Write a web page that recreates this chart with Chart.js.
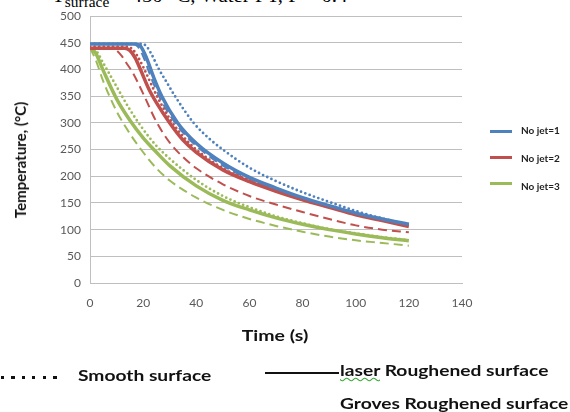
<!DOCTYPE html>
<html><head><meta charset="utf-8">
<script src="https://cdn.jsdelivr.net/npm/chart.js@4"></script>
<style>
body{margin:0;width:570px;height:412px;position:relative;overflow:hidden;background:#fff;}
canvas{position:absolute;left:0;top:0;}
.t{position:absolute;white-space:nowrap;font-family:Lato,"Open Sans",sans-serif;font-weight:bold;color:#111;}
.leg{font-size:10px;color:#222;}
.bl{font-size:15px;transform:scaleX(1.28);transform-origin:0 0;}
.sw{position:absolute;height:3px;width:22px;}
</style></head><body>
<div class="t" style="left:52px;top:-15px;font-family:'Liberation Serif',serif;font-weight:normal;font-size:19px;color:#000;transform:scaleX(1.1);transform-origin:0 0;">T<sub style="font-size:14px">surface</sub> = 450 °C, Water PT, P = 0.4</div>
<canvas id="c" width="570" height="412"></canvas>
<div class="sw" style="left:490px;top:130px;background:#4F81BD"></div>
<div class="sw" style="left:490px;top:156px;background:#C0504D"></div>
<div class="sw" style="left:490px;top:182px;background:#9BBB59"></div>
<div class="t leg" style="left:521px;top:124px;">No jet=1</div>
<div class="t leg" style="left:521px;top:152px;">No jet=2</div>
<div class="t leg" style="left:521px;top:180px;">No jet=3</div>
<div class="t" style="left:20px;top:160px;transform:translate(-50%,-50%) rotate(-90deg);font-size:15px;">Temperature, (°C)</div>
<div class="t" style="left:275px;top:335px;transform:translate(-50%,-50%) scaleX(1.3);font-size:15px;">Time (s)</div>
<div style="position:absolute;left:1px;top:376px;width:60px;height:3px;background:repeating-linear-gradient(90deg,#111 0 3px,transparent 3px 10.5px);"></div>
<div class="t bl" style="left:78px;top:366px;">Smooth surface</div>
<div style="position:absolute;left:265px;top:372px;width:74px;height:2px;background:#111"></div>
<div class="t bl" style="left:340px;top:361px;"><span style="text-decoration:underline wavy #3a3;text-decoration-thickness:1px">laser</span> Roughened surface</div>
<div class="t bl" style="left:340px;top:394px;">Groves Roughened surface</div>
<script>
// ---- data ----
const xTicks = [0, 20, 40, 60, 80, 100, 120, 140];
const yTicks = [0, 50, 100, 150, 200, 250, 300, 350, 400, 450, 500];
const legendLabels = ['No jet=1', 'No jet=2', 'No jet=3'];

// Jet 1 (blue)
const timeLaserJet1   = [0, 17, 19, 21, 24, 27, 33, 40, 50, 60, 70, 80, 90, 100, 110, 120];
const tempLaserJet1   = [448, 448, 444, 425, 385, 350, 300, 262, 225, 198, 178, 160, 145, 131, 120, 110];
const timeGrooveJet1  = [0, 16, 18, 20, 23, 26, 30, 35, 40, 50, 60, 70, 80, 90, 100, 110, 120];
const tempGrooveJet1  = [448, 448, 443, 425, 385, 350, 315, 282, 257, 220, 195, 176, 159, 144, 131, 120, 109];
const timeSmoothJet1  = [0, 19, 21, 23, 26, 29, 32, 39, 45, 50, 60, 70, 80, 90, 100, 110, 120];
const tempSmoothJet1  = [448, 448, 445, 430, 400, 375, 350, 300, 270, 250, 216, 191, 170, 152, 135, 121, 109];

// Jet 2 (red)
const timeLaserJet2   = [0, 13, 15, 17, 19, 22, 25, 30, 35, 40, 50, 60, 70, 80, 90, 100, 110, 120];
const tempLaserJet2   = [440, 440, 436, 422, 400, 365, 338, 300, 268, 245, 212, 190, 172, 156, 142, 128, 117, 106];
const timeSmoothJet2  = [0, 14, 16, 18, 20, 25, 30, 35, 40, 50, 60, 70, 80, 90, 100, 110, 120];
const tempSmoothJet2  = [443, 443, 438, 424, 405, 352, 308, 275, 250, 215, 192, 174, 158, 143, 130, 118, 107];
const timeGrooveJet2  = [0, 8, 10, 12, 14, 16, 20, 25, 30, 35, 40, 50, 60, 70, 80, 90, 100, 110, 120];
const tempGrooveJet2  = [440, 440, 436, 425, 410, 395, 355, 302, 263, 236, 215, 185, 163, 147, 133, 120, 108, 100, 95];

// Jet 3 (green)
const timeJet3        = [0, 2, 5, 10, 15, 20, 25, 30, 40, 50, 60, 70, 80, 90, 100, 110, 120];
const tempLaserJet3   = [440, 432, 398, 345, 305, 272, 245, 220, 182, 155, 137, 122, 110, 100, 92, 85, 79];
const tempSmoothJet3  = [440, 437, 412, 368, 325, 288, 257, 233, 193, 163, 142, 125, 112, 101, 93, 86, 80];
const tempGrooveJet3  = [440, 420, 378, 322, 280, 245, 215, 192, 160, 137, 120, 107, 96, 87, 80, 75, 70];

// ---- styling ----
const BLUE = '#4F81BD', RED = '#C0504D', GREEN = '#9BBB59';
const pts = (t, v) => t.map((x, i) => ({x: x, y: v[i]}));
function solid(label, t, v, c){ return {label, data: pts(t, v), borderColor: c, borderWidth: 3.5, pointRadius: 0, cubicInterpolationMode: 'monotone', fill: false}; }
function dotted(label, t, v, c){ return {label, data: pts(t, v), borderColor: c, borderWidth: 2.8, borderDash: [0, 4.6], borderCapStyle: 'round', pointRadius: 0, cubicInterpolationMode: 'monotone', fill: false}; }
function dashed(label, t, v, c){ return {label, data: pts(t, v), borderColor: c, borderWidth: 2, borderDash: [9, 5], pointRadius: 0, cubicInterpolationMode: 'monotone', fill: false}; }

const datasets = [
  solid(legendLabels[0], timeLaserJet1, tempLaserJet1, BLUE),
  solid(legendLabels[1], timeLaserJet2, tempLaserJet2, RED),
  solid(legendLabels[2], timeJet3, tempLaserJet3, GREEN),
  dotted(legendLabels[0], timeSmoothJet1, tempSmoothJet1, BLUE),
  dotted(legendLabels[1], timeSmoothJet2, tempSmoothJet2, RED),
  dotted(legendLabels[2], timeJet3, tempSmoothJet3, GREEN),
  dashed(legendLabels[0], timeGrooveJet1, tempGrooveJet1, BLUE),
  dashed(legendLabels[1], timeGrooveJet2, tempGrooveJet2, RED),
  dashed(legendLabels[2], timeJet3, tempGrooveJet3, GREEN)
];

new Chart(document.getElementById('c'), {
  type: 'line',
  data: {datasets},
  options: {
    responsive: false, animation: false, devicePixelRatio: 1,
    layout: {padding: {left: 0, top: 16, right: 108, bottom: 60}},
    plugins: {legend: {display: false}, tooltip: {enabled: false}},
    scales: {
      x: {
        type: 'linear', min: 0, max: 140,
        afterBuildTicks: s => { s.ticks = xTicks.map(v => ({value: v})); },
        afterFit: s => { s.height = 69; },
        grid: {display: false, drawTicks: false},
        border: {display: true, color: '#bfbfbf', width: 1},
        ticks: {padding: 13, color: '#595959', font: {family: 'Lato', size: 12}},
        title: {display: false}
      },
      y: {
        min: 0, max: 500,
        afterBuildTicks: s => { s.ticks = yTicks.map(v => ({value: v})); },
        afterFit: s => { s.width = 90; },
        grid: {color: '#bfbfbf', lineWidth: 1, drawTicks: false},
        border: {display: true, color: '#bfbfbf', width: 1},
        ticks: {padding: 9, color: '#595959', font: {family: 'Lato', size: 12}},
        title: {display: false}
      }
    }
  }
});
</script>
</body></html>
